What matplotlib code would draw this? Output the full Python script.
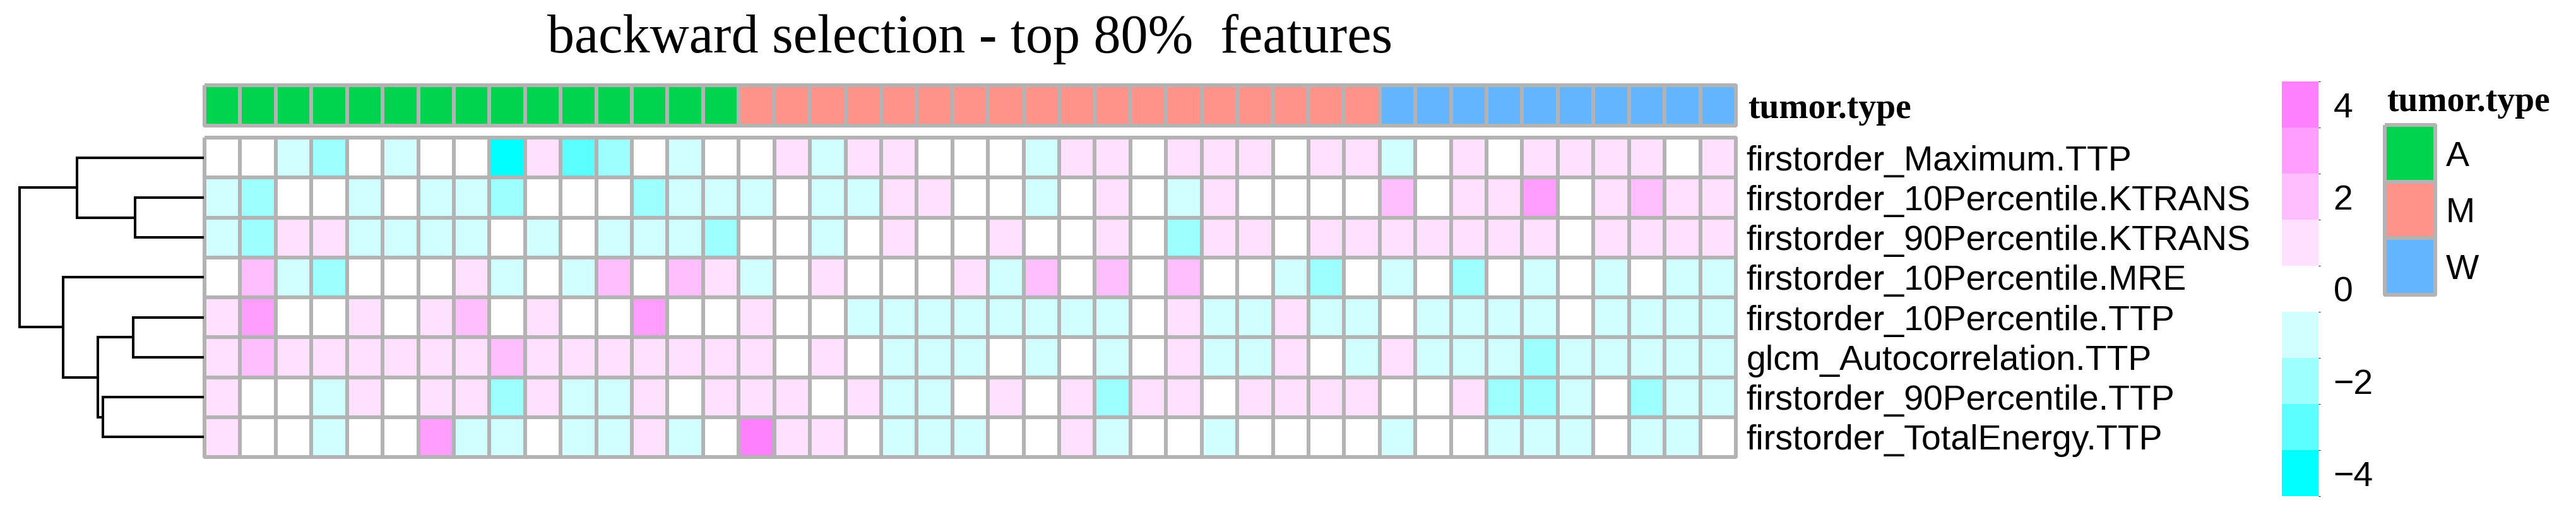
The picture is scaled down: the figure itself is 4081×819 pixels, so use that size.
import numpy as np
import matplotlib.pyplot as plt
from matplotlib.colors import ListedColormap, BoundaryNorm

# figure size in pixels (dpi 100)
W, H = 4081, 819

title = 'backward selection - top 80%  features'

features = [
    'firstorder_Maximum.TTP',
    'firstorder_10Percentile.KTRANS',
    'firstorder_90Percentile.KTRANS',
    'firstorder_10Percentile.MRE',
    'firstorder_10Percentile.TTP',
    'glcm_Autocorrelation.TTP',
    'firstorder_90Percentile.TTP',
    'firstorder_TotalEnergy.TTP',
]

tumor_types = ['A', 'M', 'W']
tumor_colors = ['#00D44F', '#FF9289', '#64B5FF']
col_type = ['A'] * 15 + ['M'] * 18 + ['W'] * 10

# scaled values (binned to the colour key), one list per feature row
maximum_ttp = [0, 0, -1, -2, 0, -1, 0, 0, -4, 1, -3, -2, 0, -1, 0,
               0, 1, -1, 1, 1, 0, 0, 0, -1, 1, 1, 0, 1, 1, 1, 0, 1, 1,
               -1, 0, 1, 0, 1, 1, 1, 1, 0, 1]
p10_ktrans = [-1, -2, 0, 0, -1, 0, -1, -1, -2, 0, 0, 0, -2, -1, -1,
              -1, 0, -1, -1, 1, 1, 0, 0, -1, 0, 1, 0, -1, 1, 0, 0, 0, 0,
              2, 0, 1, 1, 3, 0, 1, 2, 1, 1]
p90_ktrans = [-1, -2, 1, 1, -1, -1, -1, -1, 0, -1, 0, -1, -1, -1, -2,
              0, 0, -1, 0, 1, 0, 0, 1, 0, 0, 1, 0, -2, 1, 1, 0, 1, 1,
              1, 1, 1, 1, 1, 0, 1, 1, 1, 1]
p10_mre = [0, 2, -1, -2, 0, 0, 0, 1, -1, 0, -1, 2, 0, 2, 1,
           -1, 0, 1, 0, 0, 0, 1, -1, 2, 0, 2, 0, 2, 0, 0, -1, -2, 0,
           -1, 0, -2, 0, -1, 0, -1, 0, -1, -1]
p10_ttp = [1, 3, 0, 0, 1, 0, 1, 2, 0, 1, 0, 0, 3, 0, 0,
           1, 0, 0, -1, -1, -1, -1, -1, -1, -1, -1, 0, 1, -1, -1, 1, -1, -1,
           0, -1, -1, -1, -1, 0, -1, -1, -1, -1]
glcm_autocorr = [1, 2, 1, 1, 1, 1, 1, 1, 2, 1, 1, 1, 1, 1, 1,
                 1, 0, 1, 0, -1, -1, -1, 0, -1, 0, -1, 0, 1, -1, -1, 1, 0, -1,
                 1, -1, -1, -1, -2, -1, -1, -1, -1, -1]
p90_ttp = [1, 0, 0, -1, 1, 0, 1, 1, -2, 1, -1, -1, 1, 0, 1,
           1, 1, 0, 1, -1, -1, 0, 1, 0, 1, -2, 1, 1, 0, 1, 1, 1, 1,
           0, 0, 1, -2, -2, -1, 0, -2, -1, -1]
total_energy = [1, 0, 0, -1, 0, 0, 3, -1, -1, 0, -1, -1, 1, -1, 0,
                4, 1, 1, 0, -1, -1, -1, 0, 0, 1, -1, 0, 0, -1, 0, 0, 0, 0,
                -1, 0, 0, -1, -1, -1, 0, -1, -1, 0]

values = np.array([maximum_ttp, p10_ktrans, p90_ktrans, p10_mre,
                   p10_ttp, glcm_autocorr, p90_ttp, total_energy])

# row dendrogram: (left cluster, right cluster, height); leaves are rows 0..7
merges = [(1, 2, 109), (4, 5, 112), (6, 7, 160), (9, 10, 168),
          (0, 8, 201), (3, 11, 223), (12, 13, 292)]

# colour key
breaks = [-4.5, -3.5, -2.5, -1.5, -0.5, 0.5, 1.5, 2.5, 3.5, 4.5]
key_colors = ['#00FFFF', '#5CFFFF', '#9EFFFF', '#D1FFFF', '#FFFFFF',
              '#FFE0FF', '#FFBFFF', '#FF9EFF', '#FF80FF']
key_ticks = [-4, -2, 0, 2, 4]

grid_col = '#B3B3B3'
lw_grid = 2.9
sans = 'Liberation Sans'
serif = 'Liberation Serif'
fs = 40

cmap = ListedColormap(key_colors)
norm = BoundaryNorm(breaks, cmap.N)

fig = plt.figure(figsize=(W / 100, H / 100), dpi=100)


def px_axes(x0, y0, x1, y1):
    return fig.add_axes([x0 / W, 1 - y1 / H, (x1 - x0) / W, (y1 - y0) / H])


nrow, ncol = values.shape

# heatmap
ax = px_axes(324, 218, 2750, 724)
mesh = ax.pcolormesh(values, cmap=cmap, norm=norm, edgecolors=grid_col,
                     linewidth=lw_grid)
mesh.set_clip_on(False)
ax.set_xlim(0, ncol)
ax.set_ylim(nrow, 0)
ax.set_xticks([])
ax.set_yticks(np.arange(nrow) + 0.5)
ax.set_yticklabels(features, fontfamily=sans, fontsize=fs)
ax.yaxis.tick_right()
ax.tick_params(axis='y', length=0, pad=12)
for s in ax.spines.values():
    s.set_visible(False)

# column annotation bar
ax_ann = px_axes(324, 135, 2750, 199)
codes = np.array([[tumor_types.index(t) for t in col_type]])
ann = ax_ann.pcolormesh(codes, cmap=ListedColormap(tumor_colors),
                        vmin=-0.5, vmax=2.5, edgecolors=grid_col,
                        linewidth=lw_grid)
ann.set_clip_on(False)
ax_ann.set_xlim(0, ncol)
ax_ann.set_ylim(1, 0)
ax_ann.set_xticks([])
ax_ann.set_yticks([0.5])
ax_ann.set_yticklabels(['tumor.type'], fontfamily=serif, fontweight='bold',
                       fontsize=fs)
ax_ann.yaxis.tick_right()
ax_ann.tick_params(axis='y', length=0, pad=14)
for s in ax_ann.spines.values():
    s.set_visible(False)

# row dendrogram
ax_d = px_axes(0, 218, 323, 724)
pos = {i: (i + 0.5, 0.0) for i in range(nrow)}
nid = nrow
for a, b, h in merges:
    ya, ha = pos[a]
    yb, hb = pos[b]
    ax_d.plot([ha, h, h, hb], [ya, ya, yb, yb], color='black', lw=2.9,
              solid_joinstyle='miter', solid_capstyle='projecting')
    pos[nid] = ((ya + yb) / 2, h)
    nid += 1
ax_d.set_xlim(max(m[2] for m in merges) * 1.105, 0)
ax_d.set_ylim(nrow, 0)
ax_d.axis('off')

# colour key
cax = px_axes(3615, 129, 3673, 786)
cb = fig.colorbar(mesh, cax=cax, ticks=key_ticks)
cb.outline.set_visible(False)
cb.ax.tick_params(length=0, pad=17)
for t in cb.ax.get_yticklabels():
    t.set_fontfamily(sans)
    t.set_fontsize(fs)

# annotation legend
ax_l = px_axes(3778, 198, 3858, 467)
leg = ax_l.pcolormesh(np.arange(len(tumor_types)).reshape(-1, 1),
                      cmap=ListedColormap(tumor_colors), vmin=-0.5, vmax=2.5,
                      edgecolors=grid_col, linewidth=lw_grid)
leg.set_clip_on(False)
ax_l.set_xlim(0, 1)
ax_l.set_ylim(len(tumor_types), 0)
ax_l.set_xticks([])
ax_l.set_yticks(np.arange(len(tumor_types)) + 0.5)
ax_l.set_yticklabels(tumor_types, fontfamily=sans, fontsize=fs)
ax_l.yaxis.tick_right()
ax_l.tick_params(axis='y', length=0, pad=12)
for s in ax_l.spines.values():
    s.set_visible(False)
fig.text(3781 / W, 1 - 176 / H, 'tumor.type', ha='left', va='baseline',
         fontfamily=serif, fontweight='bold', fontsize=fs)

fig.text(1537 / W, 1 - 83 / H, title, ha='center', va='baseline',
         fontfamily=serif, fontsize=62)

fig.savefig('out.png', dpi=100)
